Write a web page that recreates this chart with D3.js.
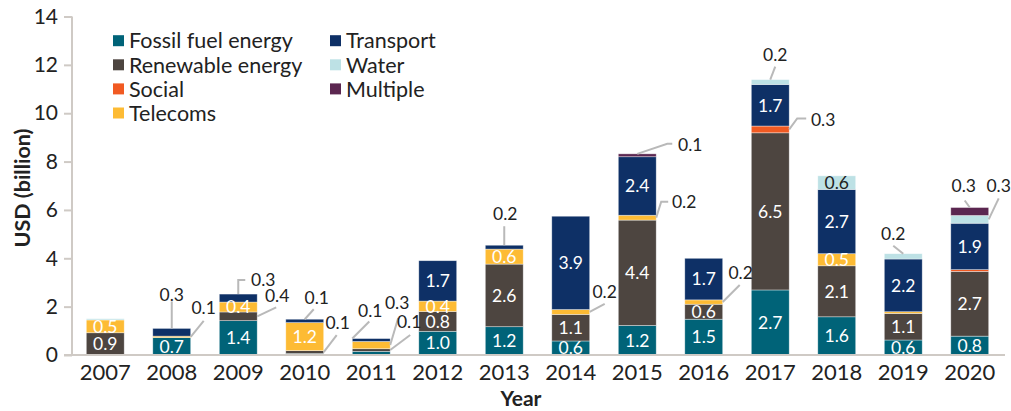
<!DOCTYPE html>
<html><head><meta charset="utf-8">
<script src="https://cdn.jsdelivr.net/npm/d3@7"></script>
<style>body{margin:0;background:#fff} text{font-family:Lato,"Noto Sans",sans-serif}</style>
</head><body>
<svg id="c" width="1011" height="411"></svg>
<script>
// ---- data ----
const years = ["2007","2008","2009","2010","2011","2012","2013","2014","2015","2016","2017","2018","2019","2020"];
const seriesNames = ["Fossil fuel energy","Renewable energy","Social","Telecoms","Transport","Water","Multiple"];
const fossil    = [0,    0.72, 1.42, 0.06, 0.15, 0.98, 1.17, 0.58, 1.22, 1.48, 2.69, 1.58, 0.62, 0.78];
const renewable = [0.92, 0,    0.36, 0.12, 0.11, 0.82, 2.59, 1.10, 4.36, 0.62, 6.50, 2.11, 1.10, 2.68];
const social    = [0,    0,    0,    0,    0,    0,    0,    0,    0,    0,    0.28, 0,    0,    0.07];
const telecoms  = [0.53, 0.06, 0.41, 1.16, 0.30, 0.43, 0.62, 0.20, 0.20, 0.18, 0,    0.50, 0.07, 0];
const transport = [0,    0.32, 0.33, 0.14, 0.12, 1.67, 0.16, 3.86, 2.42, 1.72, 1.72, 2.66, 2.18, 1.92];
const water     = [0.05, 0,    0,    0,    0,    0,    0,    0,    0,    0,    0.20, 0.56, 0.22, 0.32];
const multiple  = [0,    0,    0,    0,    0,    0,    0,    0,    0.12, 0,    0,    0,    0,    0.33];
const yTicks = [0,2,4,6,8,10,12,14];

// ---- styles / layout ----
const colors = ["#006378","#4d4540","#f15a22","#fdbb34","#0e3066","#bde1e5","#5b2650"];
const seriesValues = [fossil, renewable, social, telecoms, transport, water, multiple];
const table = years.map((y,i)=>{const o={year:y}; seriesNames.forEach((k,j)=>o[k]=seriesValues[j][i]); return o;});

// callout layout: anchor on the segment, leader offsets, label offset
const callouts = [
  {year:"2008", key:"Transport", anchor:"top",   leader:[[0,-27]], label:[0,-34]},
  {year:"2008", key:"Telecoms",  anchor:"right", leader:[[13,-16]], label:[13,-29]},
  {year:"2009", key:"Transport", anchor:"top",   leader:[[0,-14],[7,-14]], label:[25,-14]},
  {year:"2009", key:"Renewable energy", anchor:"right", leader:[[19,-9]], label:[20,-21]},
  {year:"2010", key:"Transport", anchor:"top",   leader:[[9,-10]], label:[12,-22]},
  {year:"2010", key:"Renewable energy", anchor:"right", leader:[[13,-17]], label:[14,-29]},
  {year:"2011", key:"Transport", anchor:"left",  leader:[[17,-17]], label:[18,-28]},
  {year:"2011", key:"Telecoms",  anchor:"right", leader:[[8,-27]], label:[7,-42]},
  {year:"2011", key:"Renewable energy", anchor:"right", leader:[[20,-15]], label:[19,-28]},
  {year:"2013", key:"Transport", anchor:"top",   leader:[[0,-19]], label:[1,-32]},
  {year:"2014", key:"Telecoms",  anchor:"right", leader:[[15,-8]], label:[15,-20]},
  {year:"2015", key:"Multiple",  anchor:"top",   leader:[[30,-10],[35,-10]], label:[53,-9]},
  {year:"2015", key:"Telecoms",  anchor:"right", leader:[[5,-16],[12,-16]], label:[28,-16]},
  {year:"2016", key:"Telecoms",  anchor:"right", leader:[[17,-17]], label:[18,-29]},
  {year:"2017", key:"Water",     anchor:"top",   leader:[[5,-13]], label:[5,-25]},
  {year:"2017", key:"Social",    anchor:"right", leader:[[8,-11],[17,-11]], label:[34,-10]},
  {year:"2019", key:"Water",     anchor:"top",   leader:[[-10,-8]], label:[-10,-20]},
  {year:"2020", key:"Multiple",  anchor:"top",   leader:[[-5,-7]], label:[-6,-22]},
  {year:"2020", key:"Water",     anchor:"right", leader:[[10,-21]], label:[10,-34]}
];

const svg = d3.select("#c");
const x = d3.scaleBand().domain(years).range([72,1003]).paddingInner(0.43).paddingOuter(0.215);
const y = d3.scaleLinear().domain([0,14]).range([355,16.5]);
const fmt = d3.format(".1f");
const axisColor = "#cfcac5";

const stack = d3.stack().keys(seriesNames)(table);

// bars
const layers = svg.append("g").selectAll("g").data(stack).join("g")
  .attr("fill",(d,i)=>colors[i]);
layers.selectAll("rect").data(d=>d.filter(s=>s[1]-s[0]>0)).join("rect")
  .attr("x",d=>x(d.data.year)).attr("width",x.bandwidth())
  .attr("y",d=>y(d[1])).attr("height",d=>y(d[0])-y(d[1]))
  .attr("stroke","rgba(255,255,255,0.55)").attr("stroke-width",0.7);

// inside labels
stack.forEach((layer,li)=>{
  layer.forEach(s=>{
    const v = s[1]-s[0];
    if (v >= 0.4) {
      svg.append("text")
        .attr("x", x(s.data.year)+x.bandwidth()/2)
        .attr("y", (y(s[0])+y(s[1]))/2)
        .attr("dy","0.36em").attr("text-anchor","middle")
        .attr("font-size",17.5)
        .attr("fill", seriesNames[li]==="Water" ? "#222" : "#fff")
        .text(fmt(v));
    }
  });
});

// axes
const gy = svg.append("g").attr("transform","translate(72,0)")
  .call(d3.axisLeft(y).tickValues(yTicks).tickSize(8).tickPadding(6).tickFormat(d3.format("d")));
gy.select(".domain").attr("stroke",axisColor).attr("stroke-width",2).attr("d","M0,"+y(14)+"V"+y(0));
gy.selectAll(".tick line").attr("stroke",axisColor).attr("stroke-width",2);
gy.selectAll(".tick text").attr("font-size",21).attr("fill","#222").attr("font-family","Lato");

const gx = svg.append("g").attr("transform","translate(0,355)")
  .call(d3.axisBottom(x).tickSize(0).tickPadding(9));
gx.select(".domain").attr("stroke",axisColor).attr("stroke-width",2).attr("d","M64,0H1005");
gx.selectAll(".tick text").attr("font-size",22).attr("fill","#222").attr("font-family","Lato").attr("dy","0.72em");

// axis titles
svg.append("text").attr("transform","translate(22,188) rotate(-90)")
  .attr("text-anchor","middle").attr("dy","0.35em").attr("font-size",21.5).attr("font-weight","bold").attr("fill","#222")
  .text("USD (billion)");
svg.append("text").attr("x",521).attr("y",399).attr("text-anchor","middle").attr("dy","0.35em")
  .attr("font-size",21).attr("font-weight","bold").attr("fill","#222").text("Year");

// callouts
const layerByKey = {}; stack.forEach(l=>layerByKey[l.key]=l);
callouts.forEach(c=>{
  const s = layerByKey[c.key].find(d=>d.data.year===c.year);
  const x0 = x(c.year), x1 = x0+x.bandwidth();
  let ax, ay;
  if (c.anchor==="top") { ax = x0+x.bandwidth()/2; ay = y(s[1]); }
  else if (c.anchor==="right") { ax = x1; ay = (y(s[0])+y(s[1]))/2; }
  else { ax = x0; ay = y(s[1]); }
  const pts = [[ax,ay]].concat(c.leader.map(p=>[ax+p[0],ay+p[1]]));
  svg.append("path").attr("d", d3.line()(pts)).attr("fill","none")
    .attr("stroke","#b9b9b9").attr("stroke-width",2);
  svg.append("text").attr("x",ax+c.label[0]).attr("y",ay+c.label[1])
    .attr("dy","0.36em").attr("text-anchor","middle").attr("font-size",17.5).attr("fill","#222")
    .text(fmt(s[1]-s[0]));
});

// legend
const leg = svg.append("g");
seriesNames.forEach((n,i)=>{
  const col = i<4 ? 0 : 1, row = i<4 ? i : i-4;
  const gx0 = col===0 ? 113 : 330, gy0 = 40.7 + row*24.1;
  leg.append("rect").attr("x",gx0).attr("y",gy0-5.5).attr("width",11).attr("height",11).attr("fill",colors[i]);
  leg.append("text").attr("x",gx0+16).attr("y",gy0).attr("dy","0.36em").attr("font-size",21.5).attr("fill","#222").text(n);
});
</script>
</body></html>
